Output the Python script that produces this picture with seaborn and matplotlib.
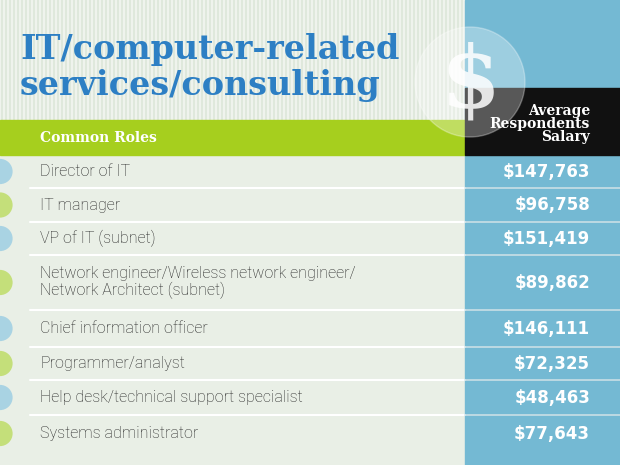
import matplotlib
matplotlib.use("Agg")
import matplotlib.pyplot as plt
from matplotlib.patches import Rectangle, Circle
import seaborn as sns
import pandas as pd

roles = ["Director of IT", "IT manager", "VP of IT (subnet)",
         "Network engineer/Wireless network engineer/\nNetwork Architect (subnet)",
         "Chief information officer", "Programmer/analyst",
         "Help desk/technical support specialist", "Systems administrator"]
salaries = [147763, 96758, 151419, 89862, 146111, 72325, 48463, 77643]
row_heights = [33, 34, 33, 55, 37, 33, 35, 37]

sns.set_style("white")
fig = plt.figure(figsize=(6.2, 4.65), dpi=100)
ax = fig.add_axes([0, 0, 1, 1])
ax.set_xlim(0, 620)
ax.set_ylim(465, 0)
ax.axis("off")

blue = "#74b9d3"
green = "#a6cf1e"
ax.add_patch(Rectangle((0, 0), 620, 465, color="#e9efe6", zorder=0))
# striped header background
ax.add_patch(Rectangle((0, 0), 465, 120, color="#dfe8dc", zorder=0))
for x in range(0, 465, 4):
    ax.plot([x, x], [0, 120], color="#f3f6f1", lw=1.2, zorder=0.5)
ax.add_patch(Rectangle((465, 0), 155, 465, color=blue, zorder=1))
ax.add_patch(Rectangle((0, 120), 465, 35, color=green, zorder=1))
ax.add_patch(Rectangle((465, 88), 155, 67, color="#111111", zorder=1))
ax.add_patch(Circle((470, 82), 55, color="white", alpha=0.3, zorder=2))
ax.text(470, 84, "$", fontsize=62, color="white", ha="center", va="center",
        fontweight="bold", zorder=3, family="DejaVu Serif", alpha=0.85)

ax.text(20, 50, "IT/computer-related", fontsize=24, fontweight="bold",
        color="#2d7fc4", va="center", zorder=3, family="DejaVu Serif")
ax.text(20, 86, "services/consulting", fontsize=24, fontweight="bold",
        color="#2d7fc4", va="center", zorder=3, family="DejaVu Serif")
ax.text(40, 138, "Common Roles", fontsize=10, fontweight="bold",
        color="white", va="center", zorder=3, family="DejaVu Serif")
ax.text(590, 124, "Average\nRespondents\nSalary", fontsize=10,
        fontweight="bold", color="white", ha="right", va="center",
        linespacing=0.95, zorder=3, family="DejaVu Serif")

tops = [155]
for h in row_heights:
    tops.append(tops[-1] + h)
rows = pd.DataFrame({"role": roles, "salary": salaries,
                     "y": [(tops[i] + tops[i + 1]) / 2 for i in range(len(roles))]})
for i, r in rows.iterrows():
    ax.text(40, r.y, r.role, fontsize=11.5, color="#222222", va="center",
            linespacing=1.1, zorder=3, family="Roboto", fontweight="light")
    ax.text(590, r.y, f"${r.salary:,}", fontsize=12, fontweight="bold",
            color="white", ha="right", va="center", zorder=3)
    if i < len(roles) - 1:
        ax.plot([30, 465], [tops[i + 1]] * 2, color="white", lw=1.5, zorder=2)
        ax.plot([465, 620], [tops[i + 1]] * 2, color="#c9dfe6", lw=1.2, zorder=2)
rows["c"] = ["b" if i % 2 == 0 else "g" for i in range(len(rows))]
rows["x"] = 0
sns.scatterplot(data=rows, x="x", y="y", hue="c", palette={"b": "#a9d3e3", "g": "#c4df7a"},
                s=330, legend=False, edgecolor="none", ax=ax, zorder=3)
ax.set_xlim(0, 620)
ax.set_ylim(465, 0)
ax.axis("off")
fig.savefig("out.png", dpi=100)
